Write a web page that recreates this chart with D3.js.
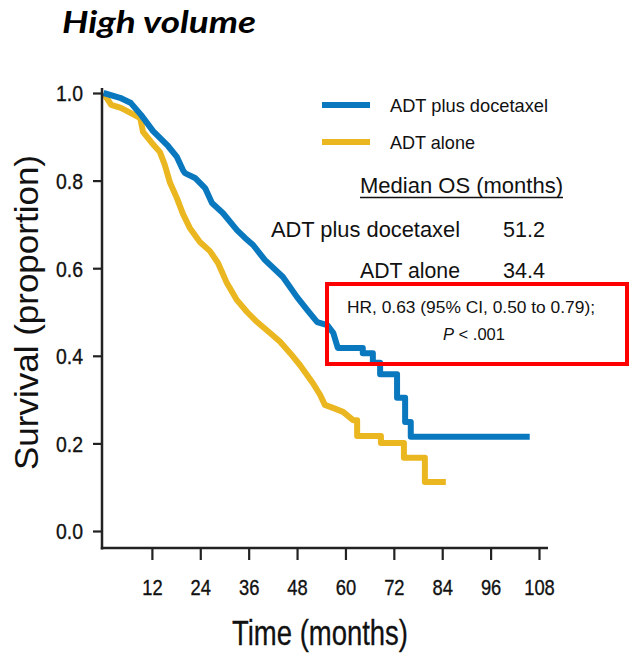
<!DOCTYPE html>
<html>
<head>
<meta charset="utf-8">
<script src="https://cdn.jsdelivr.net/npm/d3@7/dist/d3.min.js"></script>
<style>
  html, body { margin: 0; padding: 0; background: #fff; }
  svg { display: block; }
  text { font-family: "Liberation Sans", Arial, sans-serif; fill: #111; }
</style>
</head>
<body>
<svg id="chart" width="631" height="653"></svg>
<script>
// ---------- data ----------
const titleText = "High volume";
const seriesNames = ["ADT plus docetaxel", "ADT alone"];
const seriesColors = ["#0a78be", "#eab720"];
const medianOS = ["51.2", "34.4"];
const hrText = "HR, 0.63 (95% CI, 0.50 to 0.79);";
const xTicks = [12, 24, 36, 48, 60, 72, 84, 96, 108];
const yTicks = [0.0, 0.2, 0.4, 0.6, 0.8, 1.0];

// ADT plus docetaxel (months, survival proportion)
const docTime = [0, 4.1, 6.8, 9.3, 12.3, 16.0, 18.2, 19.7, 20.2, 22.7, 25.2, 26.9, 29.6, 33.1, 35.1, 37.1, 40.0, 44.5, 48.0, 50.5, 53.0, 55.5, 57.0, 58.1, 64.3, 64.3, 66.8, 66.8, 68.6, 68.6, 72.8, 72.8, 74.8, 74.8, 76.2, 76.2, 105.7];
const docSurv = [1.0, 0.989, 0.977, 0.950, 0.913, 0.879, 0.854, 0.824, 0.817, 0.806, 0.783, 0.749, 0.726, 0.687, 0.669, 0.653, 0.619, 0.580, 0.534, 0.505, 0.477, 0.470, 0.452, 0.418, 0.418, 0.406, 0.406, 0.384, 0.384, 0.358, 0.358, 0.304, 0.304, 0.249, 0.249, 0.215, 0.215];

// ADT alone
const adtTime = [0, 1.9, 4.3, 6.8, 9.1, 9.8, 12.0, 14.0, 15.2, 16.5, 18.2, 19.7, 21.4, 23.9, 26.4, 28.4, 30.6, 33.1, 35.6, 38.1, 41.3, 43.8, 46.3, 48.7, 51.9, 53.7, 54.9, 56.9, 59.4, 61.9, 62.9, 62.9, 68.8, 68.8, 74.5, 74.5, 79.7, 79.7, 84.9];
const adtSurv = [1.0, 0.973, 0.966, 0.954, 0.943, 0.911, 0.886, 0.865, 0.836, 0.795, 0.760, 0.724, 0.692, 0.660, 0.639, 0.612, 0.566, 0.527, 0.500, 0.477, 0.452, 0.432, 0.406, 0.379, 0.338, 0.311, 0.288, 0.281, 0.272, 0.253, 0.253, 0.217, 0.217, 0.201, 0.201, 0.167, 0.167, 0.112, 0.112];

// ---------- drawing ----------
const svg = d3.select("#chart");
const x = d3.scaleLinear().domain([0, 108]).range([103.5, 539]);
const y = d3.scaleLinear().domain([0, 1]).range([531, 93]);

// title
svg.append("text")
  .attr("x", 62).attr("y", 33)
  .attr("textLength", 194).attr("lengthAdjust", "spacingAndGlyphs")
  .style("font-family", "Lato, 'Open Sans', sans-serif")
  .style("font-weight", "bold").style("font-style", "italic")
  .style("font-size", "30px").style("fill", "#000")
  .text(titleText);

// curves
const line = d3.line().x(d => x(d[0])).y(d => y(d[1])).curve(d3.curveLinear);
const series = [
  docTime.map((t, i) => [t, docSurv[i]]),
  adtTime.map((t, i) => [t, adtSurv[i]])
];
[1, 0].forEach(k => {
  svg.append("path")
    .datum(series[k])
    .attr("d", line)
    .attr("fill", "none")
    .attr("stroke", seriesColors[k])
    .attr("stroke-width", 6)
    .attr("stroke-linejoin", "round");
});

// axes
const xAxis = svg.append("g").attr("transform", "translate(0,548)")
  .call(d3.axisBottom(x).tickValues(xTicks).tickSize(12).tickFormat(d3.format("d")));
xAxis.select(".domain").remove();
xAxis.selectAll(".tick line").attr("stroke", "#222").attr("stroke-width", 2.2);
xAxis.selectAll(".tick text").attr("y", 47).attr("dy", 0)
  .style("font-size", "22px").style("fill", "#111")
  .style("stroke", "#111").style("stroke-width", 0.35)
  .attr("textLength", d => String(d).length * 10.2).attr("lengthAdjust", "spacingAndGlyphs");

const yAxis = svg.append("g").attr("transform", "translate(102,0)")
  .call(d3.axisLeft(y).tickValues(yTicks).tickSize(9).tickFormat(d3.format(".1f")));
yAxis.select(".domain").remove();
yAxis.selectAll(".tick line").attr("stroke", "#222").attr("stroke-width", 2.2);
yAxis.selectAll(".tick text").attr("x", -19).attr("dy", "0.36em")
  .style("font-size", "22px").style("fill", "#111")
  .style("stroke", "#111").style("stroke-width", 0.35)
  .attr("textLength", 27).attr("lengthAdjust", "spacingAndGlyphs");

svg.append("line").attr("x1", 102).attr("x2", 102).attr("y1", 88).attr("y2", 549.5)
  .attr("stroke", "#222").attr("stroke-width", 2.5);
svg.append("line").attr("x1", 100.8).attr("x2", 548).attr("y1", 548).attr("y2", 548)
  .attr("stroke", "#222").attr("stroke-width", 2.5);

// axis titles
svg.append("text")
  .attr("x", 232).attr("y", 645)
  .attr("textLength", 176).attr("lengthAdjust", "spacingAndGlyphs")
  .style("font-size", "35px").style("fill", "#111")
  .style("stroke", "#111").style("stroke-width", 0.3)
  .text("Time (months)");

svg.append("text")
  .attr("transform", "translate(38,470) rotate(-90)")
  .attr("x", 0).attr("y", 0)
  .attr("textLength", 315).attr("lengthAdjust", "spacingAndGlyphs")
  .style("font-size", "34px").style("fill", "#111")
  .text("Survival (proportion)");

// legend
const legY = [105, 142];
seriesNames.forEach((name, i) => {
  svg.append("line").attr("x1", 322).attr("x2", 370).attr("y1", legY[i]).attr("y2", legY[i])
    .attr("stroke", seriesColors[i]).attr("stroke-width", 6);
  svg.append("text").attr("x", 390).attr("y", legY[i] + 7)
    .style("font-size", "19px")
    .attr("textLength", i === 0 ? 158 : 85).attr("lengthAdjust", "spacingAndGlyphs")
    .text(name);
});

// Median OS table
svg.append("text").attr("x", 360).attr("y", 193)
  .attr("textLength", 203).attr("lengthAdjust", "spacingAndGlyphs")
  .style("font-size", "22px").text("Median OS (months)");
svg.append("line").attr("x1", 360).attr("x2", 563).attr("y1", 197.5).attr("y2", 197.5)
  .attr("stroke", "#111").attr("stroke-width", 1.6);

const rowY = [237, 278];
const rowX = [271, 360];
const rowW = [189, 100];
seriesNames.forEach((name, i) => {
  svg.append("text").attr("x", rowX[i]).attr("y", rowY[i])
    .attr("textLength", rowW[i]).attr("lengthAdjust", "spacingAndGlyphs")
    .style("font-size", "22px").text(name);
  svg.append("text").attr("x", 503).attr("y", rowY[i])
    .attr("textLength", 42).attr("lengthAdjust", "spacingAndGlyphs")
    .style("font-size", "22px").text(medianOS[i]);
});

// HR box
svg.append("rect").attr("x", 327).attr("y", 284).attr("width", 300).attr("height", 80)
  .attr("fill", "none").attr("stroke", "#ff0000").attr("stroke-width", 4);
svg.append("text").attr("x", 347).attr("y", 313)
  .attr("textLength", 248).attr("lengthAdjust", "spacingAndGlyphs")
  .style("font-size", "17px").text(hrText);
const pt = svg.append("text").attr("x", 443).attr("y", 340)
  .attr("textLength", 62).attr("lengthAdjust", "spacingAndGlyphs")
  .style("font-size", "17px");
pt.append("tspan").style("font-style", "italic").text("P");
pt.append("tspan").text(" < .001");
</script>
</body>
</html>
